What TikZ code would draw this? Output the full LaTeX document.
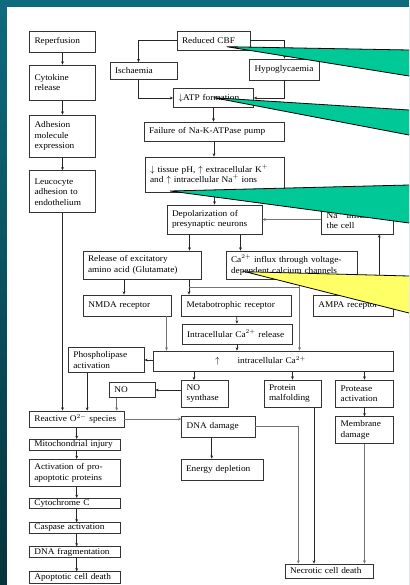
\documentclass[tikz,border=0pt]{standalone}
\usepackage{fontspec}
\setmainfont{Liberation Serif}[FakeStretch=1.07]
\usetikzlibrary{arrows.meta}
\definecolor{slideteal}{HTML}{0E6B7E}
\definecolor{slidedeep}{HTML}{06343C}
\definecolor{notegreen}{HTML}{00C896}
\definecolor{noteyellow}{HTML}{FFFF66}

\begin{document}
\begin{tikzpicture}[x=1pt, y=-1pt, font=\fontsize{8.7}{10.5}\selectfont]
    \tikzstyle{stage} = [rectangle, draw=black!80, line width=0.8pt, fill=white, inner xsep=5pt, inner ysep=1pt, align=left]
    \tikzstyle{link} = [-{Stealth[length=3.2pt, width=2.8pt]}, line width=0.7pt, black!85]
    \tikzstyle{glink} = [link, black!55]
    \tikzstyle{wire} = [line width=0.7pt, black!55]
    \tikzstyle{note} = [draw=black, line width=0.8pt, line join=miter]

    \useasboundingbox (0,0) rectangle (409,585);
    \shade[top color=slideteal, bottom color=slidedeep] (0,0) rectangle (409,585);
    \fill[white] (7,7) rectangle (409,585);

    % reperfusion branch
    \node (reperf) [stage, text width=56pt, minimum height=21pt] at (62.5,41.5) {Reperfusion};
    \node (cytokine) [stage, text width=56pt, minimum height=35pt] at (62.5,82.5) {Cytokine\\release};
    \node (adhesion) [stage, text width=56pt, minimum height=42pt] at (62.5,136) {Adhesion\\molecule\\expression};
    \node (leuco) [stage, text width=56pt, minimum height=42pt] at (62.5,191.7) {Leucocyte\\adhesion to\\endothelium};

    % energy failure
    \node (cbf) [stage, text width=63pt, minimum height=19pt] at (213.5,40.5) {Reduced CBF};
    \node (isch) [stage, text width=57pt, minimum height=17pt] at (143.5,71) {Ischaemia};
    \node (hypo) [stage, text width=60pt, minimum height=21pt] at (284.5,69.5) {Hypoglycaemia};
    \node (atp) [stage, text width=70pt, minimum height=19pt] at (213.5,98) {$\downarrow$ATP formation};
    \node (failure) [stage, text width=130pt, minimum height=19pt] at (214,131.5) {Failure of Na-K-ATPase pump};
    \node (tissue) [stage, text width=129pt, minimum height=35pt] at (214.5,174.5) {$\downarrow$ tissue pH, $\uparrow$ extracellular K$^+$\\and $\uparrow$ intracellular Na$^+$ ions};
    \node (depol) [stage, text width=85pt, minimum height=29pt] at (214.5,219.5) {Depolarization of\\presynaptic neurons};
    \node (naflux) [stage, text width=61.6pt, minimum height=29pt] at (357.5,219.5) {Na$^+$ influx into\\the cell};

    % glutamate and calcium
    \node (release) [stage, text width=108pt, minimum height=28pt] at (142,265) {Release of excitatory\\amino acid (Glutamate)};
    \node (cainflux) [stage, text width=121pt, minimum height=28pt] at (291.5,265) {Ca$^{2+}$ influx through voltage-\\dependent calcium channels};
    \node (nmda) [stage, text width=78.4pt, minimum height=21pt] at (127.5,305.5) {NMDA receptor};
    \node (metab) [stage, text width=100pt, minimum height=21pt] at (236.7,305.5) {Metabotrophic receptor};
    \node (ampa) [stage, text width=70pt, minimum height=21pt] at (353.3,305.5) {AMPA receptor};
    \node (carel) [stage, text width=100pt, minimum height=20pt] at (237,334) {Intracellular Ca$^{2+}$ release};
    \node (cai) [stage, text width=230pt, minimum height=20pt] at (273,361) {\hspace*{57pt}$\uparrow$\hspace{18pt}intracellular Ca$^{2+}$};

    % downstream of calcium
    \node (phosph) [stage, text width=65.7pt, minimum height=25pt] at (106.2,360) {Phospholipase\\activation};
    \node (nosyn) [stage, text width=36.6pt, minimum height=26.5pt] at (205,393.7) {NO\\synthase};
    \node (no) [stage, text width=35.7pt, minimum height=15pt] at (132.2,390) {NO};
    \node (protein) [stage, text width=47pt, minimum height=27pt] at (292.5,393.5) {Protein\\malfolding};
    \node (protease) [stage, text width=47.6pt, minimum height=27pt] at (364.5,393.5) {Protease\\activation};
    \node (membrane) [stage, text width=47.6pt, minimum height=26.6pt] at (364.5,430) {Membrane\\damage};
    \node (reactive) [stage, text width=84.7pt, minimum height=16pt] at (76.7,419) {Reactive O$^{2-}$ species};
    \node (dnadmg) [stage, text width=63.3pt, minimum height=21pt] at (218.3,426.5) {DNA damage};
    \node (energy) [stage, text width=72.3pt, minimum height=21pt] at (222.2,469.5) {Energy depletion};
    \node (necrotic) [stage, text width=78pt, minimum height=14pt] at (329,571) {Necrotic cell death};

    % apoptosis
    \node (mito) [stage, text width=80.7pt, minimum height=10.7pt] at (74.7,444.7) {Mitochondrial injury};
    \node (proapop) [stage, text width=80.7pt, minimum height=27.4pt] at (74.7,473) {Activation of pro-\\apoptotic proteins};
    \node (cytoc) [stage, text width=80.7pt, minimum height=10pt] at (74.7,503.3) {Cytochrome C};
    \node (caspase) [stage, text width=80.7pt, minimum height=10.6pt] at (74.7,528) {Caspase activation};
    \node (dnafrag) [stage, text width=80.7pt, minimum height=10.6pt] at (74.7,552) {DNA fragmentation};
    \node (apoptotic) [stage, text width=80.7pt, minimum height=11.6pt] at (74.7,577.5) {Apoptotic cell death};

    \draw [link] (reperf) -- (cytokine);
    \draw [link] (cytokine) -- (adhesion);
    \draw [link] (adhesion) -- (leuco);
    \draw [link] (leuco.south) -- (leuco.south |- reactive.north);

    \draw [link] (cbf.west) -| ([xshift=-5pt]isch.north);
    \draw [link] (cbf.east) -| (hypo.north);
    \draw [link] ([xshift=-5pt]isch.south) |- (atp.west);
    \draw [link] (hypo.south) |- (atp.east);
    \draw [link] (atp.south) -- (atp.south |- failure.north);
    \draw [link] (failure.south) -- (failure.south |- tissue.north);
    \draw [link] (tissue.south) -- (tissue.south |- depol.north);
    \draw [glink] (naflux.west) -- (depol.east);
    \draw [link] ([xshift=-25pt]depol.south) -- ([xshift=-25pt]depol.south |- release.north);
    \draw [link] ([xshift=26pt]depol.south) -- ([xshift=26pt]depol.south |- cainflux.north);

    \draw [link] ([xshift=-18pt]release.south) -- ([xshift=-18pt]release.south |- nmda.north);
    \draw [link] ([xshift=47pt]release.south) -- ([xshift=47pt]release.south |- metab.north);
    \coordinate (glu) at ([xshift=47pt, yshift=-8pt]release.south);
    \coordinate (cadrop) at ([xshift=8pt]cainflux.south);
    \draw [wire] (glu) -- (glu -| cadrop);
    \draw [glink] (cadrop) -- (cadrop |- cai.north);
    \draw [link] ([xshift=26pt]ampa.north) -- ([xshift=26pt]ampa.north |- naflux.south);
    \draw [link] (metab) -- (carel);
    \draw [link] (carel.south) -- (carel.south |- cai.north);
    \draw [glink] ([xshift=39pt]nmda.south) -- ([xshift=39pt]nmda.south |- cai.north);

    \draw [link] (cai.west |- phosph.east) -- (phosph.east);
    \draw [link] ([xshift=-11pt]nosyn.north |- cai.south) -- ([xshift=-11pt]nosyn.north);
    \draw [link] (nosyn.west |- no.east) -- (no.east);
    \draw [glink] ([xshift=-15.5pt]no.south) -- ([xshift=-15.5pt]no.south |- reactive.north);
    \draw [link] ([xshift=-19pt]phosph.south) -- ([xshift=-19pt]phosph.south |- reactive.north);
    \draw [link] (protein.north |- cai.south) -- (protein.north);
    \draw [link] (protease.north |- cai.south) -- (protease.north);
    \draw [link] (protease) -- (membrane);
    \draw [glink] (membrane.south) -- (membrane.south |- necrotic.north);
    \draw [link] ([xshift=21.5pt]protein.south) -- ([xshift=21.5pt]protein.south |- necrotic.north);
    \draw [glink] (reactive.east) -- (reactive.east -| dnadmg.west);
    \draw [glink] (dnadmg.east) -| ([xshift=-30.7pt]necrotic.north);
    \draw [link] ([xshift=-6.6pt]dnadmg.south) -- ([xshift=-6.6pt]dnadmg.south |- energy.north);

    \foreach \a/\b in {reactive/mito, mito/proapop, proapop/cytoc, cytoc/caspase, caspase/dnafrag, dnafrag/apoptotic}
        \draw [link] (\a.south -| reactive.south) -- (\b.north -| reactive.south);

    % callout wedges running off the right edge
    \coordinate (cbfnote) at (226.7,46.7);
    \coordinate (atpnote) at (213.5,97.7);
    \coordinate (ionnote) at (170,191);
    \coordinate (canote) at (245,271.7);
    \foreach \tip/\up/\lo/\col in {cbfnote/50/76/notegreen, atpnote/110/135/notegreen, ionnote/185/223/notegreen, canote/276/313/noteyellow} {
        \fill[\col] (\tip) -- (409,\up) -- (409,\lo) -- cycle;
        \draw[note] (409,\up) -- (\tip) -- (409,\lo);
    }
\end{tikzpicture}
\end{document}
